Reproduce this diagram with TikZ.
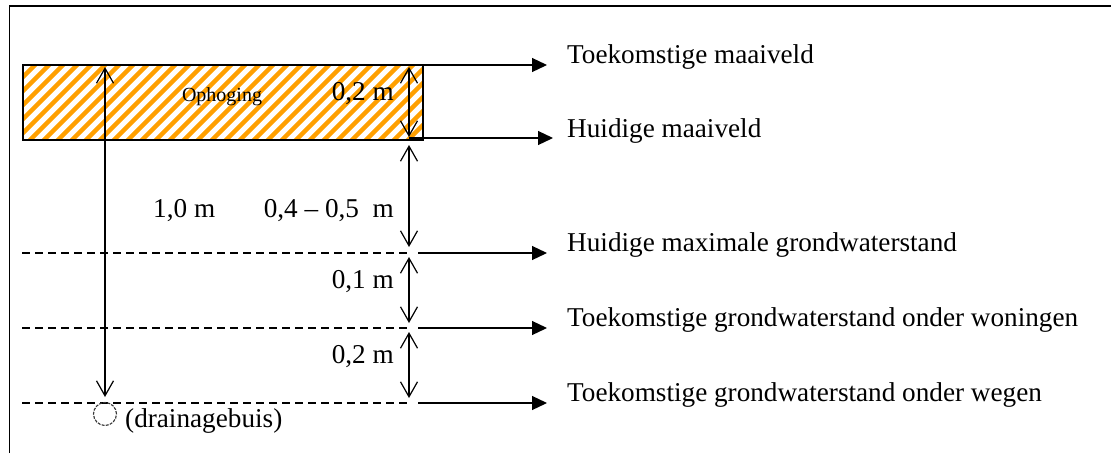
\documentclass[tikz,border=0pt]{standalone}
\usepackage{fontspec}
\setmainfont{Liberation Serif}
\usetikzlibrary{arrows.meta}
\definecolor{ophoogoranje}{RGB}{255,160,0}
\begin{document}
\begin{tikzpicture}[x=1pt,y=-1pt,
  lijn/.style={line width=1.2pt},
  barb/.tip={Straight Barb[length=15pt,width=17pt,line width=1.2pt]},
  maat/.style={lijn,barb-barb},
  wijzer/.style={lijn,-{Triangle[length=15pt,width=14pt]}},
  peil/.style={line width=1.2pt,dash pattern=on 8pt off 5pt},
  tekst/.style={font=\fontsize{27.2}{30}\selectfont,inner sep=0pt},
  klein/.style={font=\fontsize{20}{22}\selectfont,inner sep=0pt}]
\useasboundingbox (0,0) rectangle (1111,453);

% frame (top and left edge)
\draw[lijn] (9.5,453) -- (9.5,6) -- (1111,6);

% raised layer: orange hatching
\begin{scope}
  \clip (23,65) rectangle (423,140);
  \foreach \x in {-70,-56,...,430}
    \draw[ophoogoranje,line width=4.5pt] (\x,142) -- (\x+79,63);
\end{scope}
\draw[lijn] (23,65) rectangle (423,140);
\node[klein,anchor=base] (oph) at (222,101) {Ophoging};

% levels
\coordinate (toekmv) at (423,65);
\coordinate (huidmv) at (409,138);
\coordinate (gws1l) at (22,253);
\coordinate (gws2l) at (22,328);
\coordinate (gws3l) at (22,403);
\coordinate (gws1r) at (408,253);
\coordinate (gws2r) at (408,328);
\coordinate (gws3r) at (408,403);
\coordinate (gws1s) at (418,253);
\coordinate (gws2s) at (418,328);
\coordinate (gws3s) at (418,403);

\draw[peil] (gws1l) -- (gws1r);
\draw[peil] (gws2l) -- (gws2r);
\draw[peil] (gws3l) -- (gws3r);

% labels on the right
\node[tekst,anchor=base west] (l1) at (567,63) {Toekomstige maaiveld};
\node[tekst,anchor=base west] (l2) at (567,137) {Huidige maaiveld};
\node[tekst,anchor=base west] (l3) at (567,251) {Huidige maximale grondwaterstand};
\node[tekst,anchor=base west] (l4) at (567,326) {Toekomstige grondwaterstand onder woningen};
\node[tekst,anchor=base west] (l5) at (567,401) {Toekomstige grondwaterstand onder wegen};

\coordinate (t1) at (547,65);
\coordinate (t2) at (553,138);
\coordinate (t3) at (547,253);
\coordinate (t4) at (547,328);
\coordinate (t5) at (547,403);
\draw[wijzer] (toekmv) -- (t1);
\draw[wijzer] (huidmv) -- (t2);
\draw[wijzer] (gws1s) -- (t3);
\draw[wijzer] (gws2s) -- (t4);
\draw[wijzer] (gws3s) -- (t5);

% dimension arrows
\coordinate (a1) at (409,67);  \coordinate (a2) at (409,137);
\coordinate (b1) at (409,145); \coordinate (b2) at (409,247);
\coordinate (c1) at (409,257); \coordinate (c2) at (409,323);
\coordinate (d1) at (409,332); \coordinate (d2) at (409,398);
\coordinate (e1) at (105,67);  \coordinate (e2) at (105,397);
\draw[maat] (a1) -- (a2);
\draw[maat] (b1) -- (b2);
\draw[maat] (c1) -- (c2);
\draw[maat] (d1) -- (d2);
\draw[maat] (e1) -- (e2);

\node[tekst,anchor=base east] (m1) at (394,100) {0,2 m};
\node[tekst,anchor=base west] (m2) at (153,217) {1,0 m};
\node[tekst,anchor=base east] (m3) at (394,217) {0,4 -- 0,5\ \ m};
\node[tekst,anchor=base east] (m4) at (394,288) {0,1 m};
\node[tekst,anchor=base east] (m5) at (394,363) {0,2 m};

% drain pipe
\node[circle,draw=black!80,line width=1.1pt,dash pattern=on 3pt off 1.2pt,
      minimum size=23pt,inner sep=0pt] (buis) at (105,414) {};
\node[tekst,anchor=base west] (buistekst) at (125,427) {(drainagebuis)};
\end{tikzpicture}
\end{document}
